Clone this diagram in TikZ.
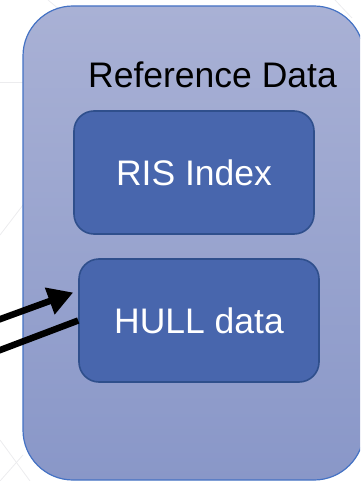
\documentclass[tikz,border=0pt]{standalone}
\usepackage{fontspec}
\setmainfont{Liberation Sans}
\usetikzlibrary{arrows.meta,calc}

\definecolor{outertop}{RGB}{169,177,213}
\definecolor{outerbot}{RGB}{137,151,200}
\definecolor{outerline}{RGB}{68,114,196}
\definecolor{boxfill}{RGB}{72,102,173}
\definecolor{boxline}{RGB}{47,79,140}
\definecolor{faint}{RGB}{236,236,238}

\begin{document}
\begin{tikzpicture}[x=1pt,y=-1pt,
    container/.style={draw=outerline, line width=1.2pt, rounded corners=50pt,
        top color=outertop, bottom color=outerbot,
        minimum width=341pt, minimum height=474pt, inner sep=0pt},
    databox/.style={draw=boxline, line width=1.6pt, rounded corners=20pt, fill=boxfill,
        text=white, font=\fontsize{35.5}{42}\selectfont,
        minimum width=240pt, minimum height=123pt, inner sep=0pt},
    feed/.style={line width=6.5pt, black}]
    \useasboundingbox (0,0) rectangle (360,481);
    \clip (0,0) rectangle (360,481);

    % Faint background lines
    \draw[faint, line width=0.8pt] (0,82) -- (23,82);
    \draw[faint, line width=0.8pt] (48,0) -- (60,10);
    \draw[faint, line width=0.8pt] (0,235) -- (23,205);
    \draw[faint, line width=0.8pt] (0,440) -- (30,481);
    \draw[faint, line width=0.8pt] (0,481) -- (23,455);
    \draw[faint, line width=0.8pt] (335,0) -- (352,18);

    % Outer container
    \node[container] (refdata) at (193.5,243) {};
    \node[font=\fontsize{35.5}{42}\selectfont, anchor=base] (title) at (212.5,88) {Reference Data};

    % Inner boxes
    \node[databox] (ris) at (194,172.5) {RIS Index};
    \node[databox] (hull) at (199,320.5) {HULL data};

    % Incoming lines
    \coordinate (in1) at (-5,321);
    \coordinate (in2) at (-5,352);
    \draw[feed, -{Triangle[length=25pt,width=27pt]}] (in1) -- ($(hull.west)+(-5,-28)$);
    \draw[feed] (in2) -- (hull.west);
\end{tikzpicture}
\end{document}
